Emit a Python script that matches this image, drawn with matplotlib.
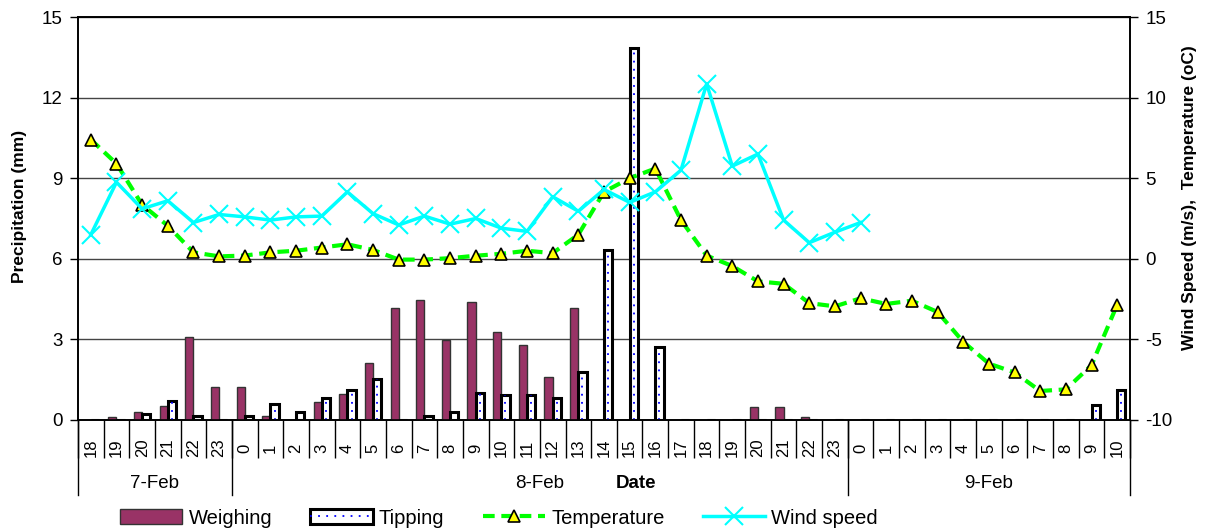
import matplotlib
matplotlib.use('Agg')
import matplotlib.pyplot as plt
import numpy as np
from matplotlib.patches import Patch
from matplotlib.lines import Line2D
from matplotlib.legend_handler import HandlerTuple
import matplotlib.transforms as mtransforms

plt.rcParams['font.family'] = ['Liberation Sans', 'DejaVu Sans']
plt.rcParams['axes.unicode_minus'] = False

# ---------------- data ----------------
dates = ['7-Feb', '8-Feb', '9-Feb']
hours_7feb = [18, 19, 20, 21, 22, 23]
hours_8feb = list(range(0, 24))
hours_9feb = list(range(0, 11))
hours_by_date = [hours_7feb, hours_8feb, hours_9feb]
hours = hours_7feb + hours_8feb + hours_9feb

weighing = [0, 0.12, 0.29, 0.53, 3.1, 1.22,
            1.22, 0.15, 0, 0.68, 0.97, 2.11, 4.18, 4.47, 2.98, 4.4, 3.26, 2.79,
            1.6, 4.18, 0, 0, 0, 0, 0, 0, 0.5, 0.5, 0.12, 0,
            0, 0, 0, 0, 0, 0, 0, 0, 0, 0, 0]
tipping = [0, 0, 0.21, 0.72, 0.16, 0,
           0.15, 0.6, 0.31, 0.83, 1.1, 1.51, 0, 0.15, 0.31, 0.99, 0.93, 0.93,
           0.83, 1.8, 6.33, 13.84, 2.7, 0, 0, 0, 0, 0, 0, 0,
           0, 0, 0, 0, 0, 0, 0, 0, 0, 0.56, 1.12]
temperature = [7.4, 5.9, 3.35, 2.05, 0.4, 0.15,
               0.2, 0.4, 0.5, 0.7, 0.9, 0.55, -0.05, -0.05, 0.04, 0.19, 0.31, 0.5,
               0.35, 1.5, 4.15, 5.0, 5.6, 2.4, 0.2, -0.45, -1.4, -1.55, -2.75, -2.95,
               -2.45, -2.8, -2.6, -3.3, -5.15, -6.5, -7.05, -8.2, -8.1, -6.6, -2.85]
wind_speed = [1.5, 4.75, 3.1, 3.6, 2.25, 2.75,
              2.6, 2.4, 2.6, 2.65, 4.15, 2.8, 2.1, 2.65, 2.15, 2.5, 1.9, 1.7,
              3.85, 2.95, 4.3, 3.5, 4.15, 5.5, 10.85, 5.75, 6.5, 2.4, 1.0, 1.65,
              2.25]

left_ticks = [0, 3, 6, 9, 12, 15]
right_ticks = [-10, -5, 0, 5, 10, 15]

# ---------------- figure ----------------
W, H = 1209, 532
fig = plt.figure(figsize=(W / 100, H / 100), dpi=100)
ax = fig.add_axes([78 / W, 1 - 420 / H, 1052 / W, 403 / H])
ax2 = ax.twinx()

n = len(hours)
x = np.arange(n)
bw = 0.32

ax.bar(x - bw / 2, weighing, bw, color='#993366', edgecolor='#333333',
       linewidth=1, zorder=3)
ax.bar(x + bw / 2, tipping, bw, color='white', edgecolor='black',
       linewidth=2.2, zorder=3)
tip = np.array(tipping)
mask = tip > 0.4
ax.vlines(x[mask] + bw / 2, 0, tip[mask], colors='#0000ff',
          linestyles=(0, (1, 3.5)), linewidth=1.3, zorder=4)

ax.set_xlim(-0.5, n - 0.5)
ax.set_ylim(0, 15)
ax.set_yticks(left_ticks)
ax.grid(axis='y', color='#444444', linewidth=1, zorder=0)
ax.set_axisbelow(True)

ax2.plot(x, temperature, color='#00ff00', linewidth=3,
         linestyle=(0, (2.8, 1.6)), marker='^', markersize=8.5,
         markerfacecolor='#ffff00', markeredgecolor='black',
         markeredgewidth=1.2, zorder=5)
ax2.plot(x[:len(wind_speed)], wind_speed, color='#00ffff', linewidth=2.5,
         marker='x', markersize=13, markeredgewidth=1.5, zorder=6)
ax2.set_ylim(-10, 15)
ax2.set_yticks(right_ticks)

for a in (ax, ax2):
    for s in a.spines.values():
        s.set_color('black')
        s.set_linewidth(1.2)

ax.tick_params(axis='y', direction='out', length=6, width=1, labelsize=13.5,
               pad=5)
ax2.tick_params(axis='y', direction='out', length=6, width=1, labelsize=13.5,
                pad=5)

# x axis: hour labels with separators
ax.set_xticks(x)
ax.set_xticklabels([])
ax.tick_params(axis='x', which='major', length=0)
ax.set_xticks(np.arange(-0.5, n), minor=True)
ax.tick_params(axis='x', which='minor', length=27, width=1, direction='out',
               color='black')

trans = mtransforms.blended_transform_factory(ax.transData, ax.transAxes)
for i, h in enumerate(hours):
    ax.text(i, -28 / 403, str(h), rotation=90, ha='center', va='center',
            fontsize=12, transform=trans)

start = -0.5
for d, grp in zip(dates, hours_by_date):
    end = start + len(grp)
    ax.text((start + end) / 2, -64 / 403, d, ha='center', va='center',
            fontsize=13.5, transform=trans)
    start = end
bounds = np.concatenate([[-0.5], -0.5 + np.cumsum([len(g) for g in hours_by_date])])
for b in bounds:
    ax.plot([b, b], [0, -75 / 403], transform=trans, color='black',
            linewidth=1, clip_on=False)

ax.text(0.53, -64 / 403, 'Date', transform=ax.transAxes, ha='center',
        va='center', fontsize=13.5, fontweight='bold')

ax.set_ylabel('Precipitation (mm)', fontsize=12.5, fontweight='bold')
ax.yaxis.set_label_coords(-0.0485, 0.531)
ax2.set_ylabel('Wind Speed (m/s),  Temperature (oC)', fontsize=12.5,
               fontweight='bold')
ax2.yaxis.set_label_coords(1.049, 0.553)

# legend
h_w = Patch(facecolor='#993366', edgecolor='#333333', linewidth=1)
h_t = (Patch(facecolor='white', edgecolor='black', linewidth=2.2),
       Line2D([], [], color='#0000ff', linestyle=(0, (1, 3.5)), linewidth=1.3))
h_temp = Line2D([], [], color='#00ff00', linewidth=3,
                linestyle=(0, (2.8, 1.6)), marker='^', markersize=8.5,
                markerfacecolor='#ffff00', markeredgecolor='black',
                markeredgewidth=1.2)
h_wind = Line2D([], [], color='#00ffff', linewidth=2.5, marker='x',
                markersize=13, markeredgewidth=1.5)
fig.legend([h_w, h_t, h_temp, h_wind],
           ['Weighing', 'Tipping', 'Temperature', 'Wind speed'],
           loc='center left', bbox_to_anchor=(120 / W, 1 - 518 / H),
           ncol=4, frameon=False, fontsize=14.5, handlelength=3.1,
           handletextpad=0.3, columnspacing=1.9, borderpad=0,
           borderaxespad=0, handler_map={tuple: HandlerTuple(ndivide=1)})

fig.savefig('out.png', dpi=100)
